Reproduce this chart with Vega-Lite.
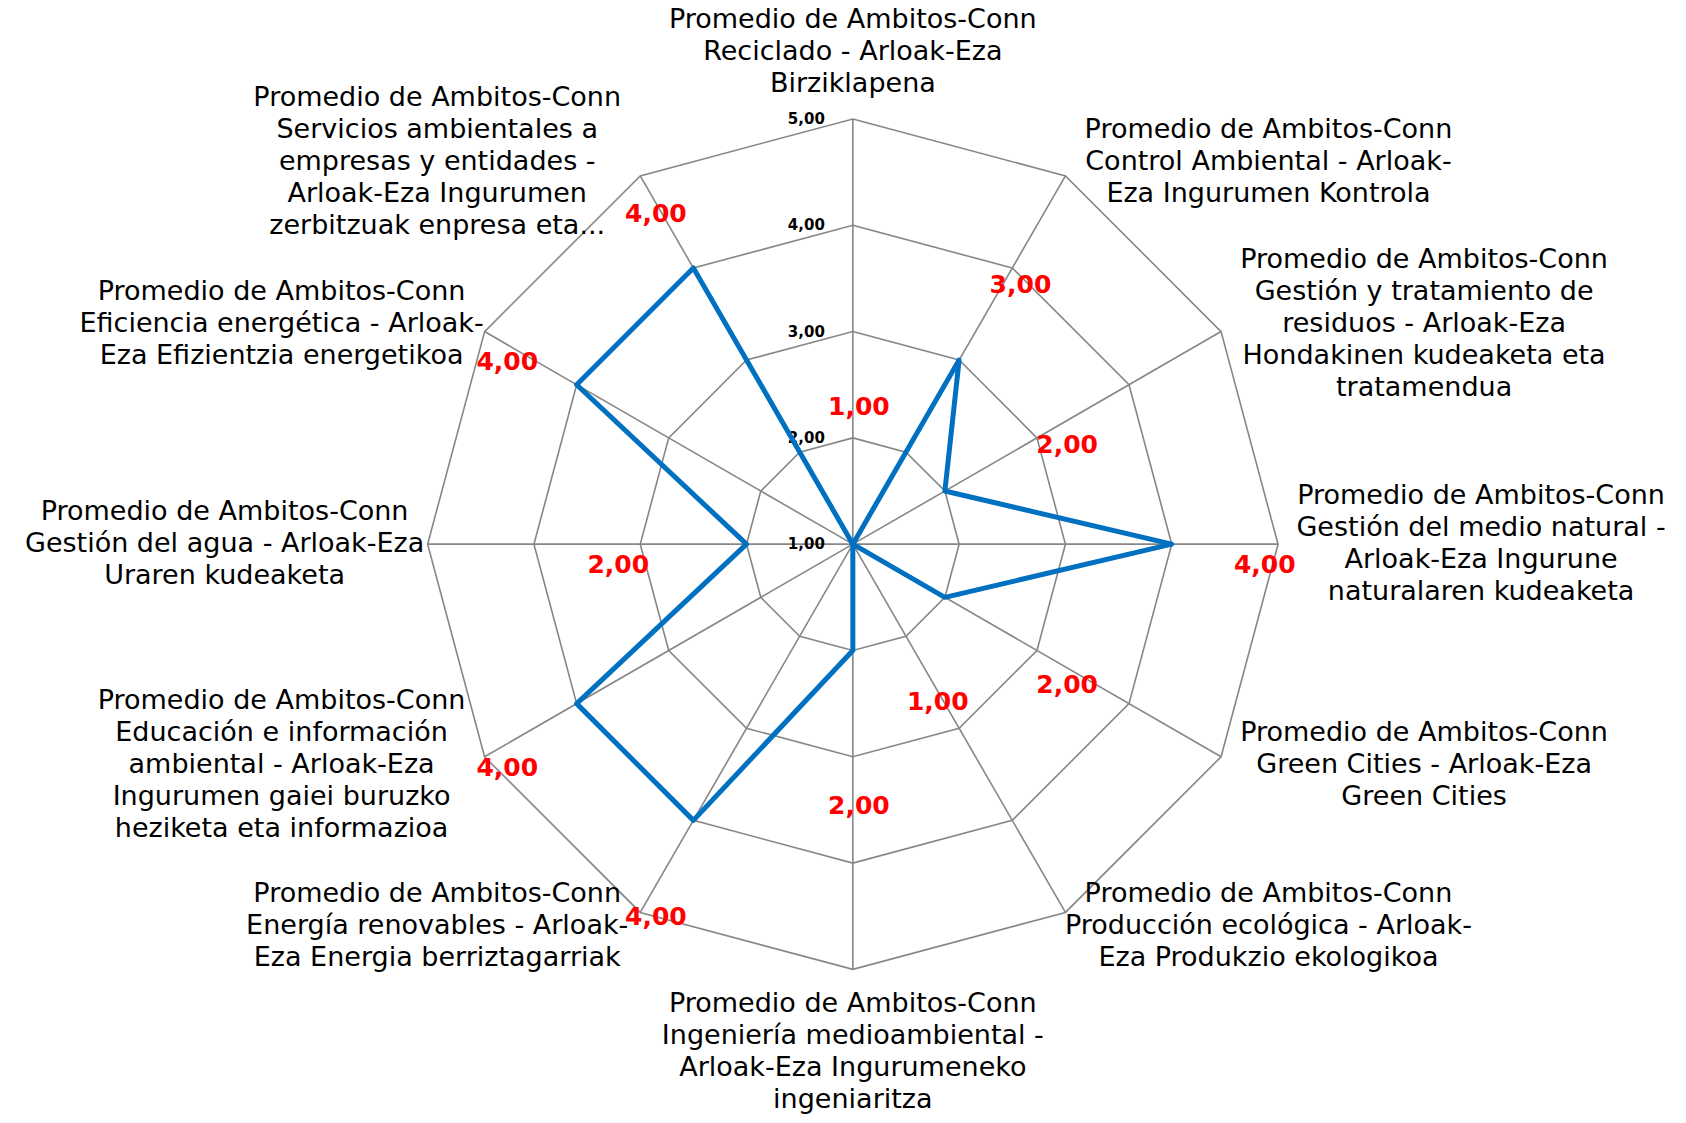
{
  "$schema": "https://vega.github.io/schema/vega-lite/v6.json",
  "width": 1686,
  "height": 1123,
  "autosize": {"type": "fit", "contains": "padding"},
  "padding": 0,
  "background": "white",
  "config": {"view": {"stroke": null}},
  "data": {
    "values": [
      {"k": 0, "value": 1, "label": "Promedio de Ambitos-Conn\nReciclado - Arloak-Eza\nBirziklapena"},
      {"k": 1, "value": 3, "label": "Promedio de Ambitos-Conn\nControl Ambiental - Arloak-\nEza Ingurumen Kontrola"},
      {"k": 2, "value": 2, "label": "Promedio de Ambitos-Conn\nGestión y tratamiento de\nresiduos - Arloak-Eza\nHondakinen kudeaketa eta\ntratamendua"},
      {"k": 3, "value": 4, "label": "Promedio de Ambitos-Conn\nGestión del medio natural  -\nArloak-Eza Ingurune\nnaturalaren kudeaketa"},
      {"k": 4, "value": 2, "label": "Promedio de Ambitos-Conn\nGreen Cities - Arloak-Eza\nGreen Cities"},
      {"k": 5, "value": 1, "label": "Promedio de Ambitos-Conn\nProducción ecológica - Arloak-\nEza Produkzio ekologikoa"},
      {"k": 6, "value": 2, "label": "Promedio de Ambitos-Conn\nIngeniería medioambiental -\nArloak-Eza Ingurumeneko\ningeniaritza"},
      {"k": 7, "value": 4, "label": "Promedio de Ambitos-Conn\nEnergía renovables - Arloak-\nEza Energia berriztagarriak"},
      {"k": 8, "value": 4, "label": "Promedio de Ambitos-Conn\nEducación e información\nambiental - Arloak-Eza\nIngurumen gaiei buruzko\nheziketa eta informazioa"},
      {"k": 9, "value": 2, "label": "Promedio de Ambitos-Conn\nGestión del agua - Arloak-Eza\nUraren kudeaketa"},
      {"k": 10, "value": 4, "label": "Promedio de Ambitos-Conn\nEficiencia energética - Arloak-\nEza Efizientzia energetikoa"},
      {"k": 11, "value": 4, "label": "Promedio de Ambitos-Conn\nServicios ambientales a\nempresas y entidades -\nArloak-Eza Ingurumen\nzerbitzuak enpresa eta..."}
    ]
  },
  "transform": [
    {"calculate": "datum.k*PI/6", "as": "ang"},
    {"calculate": "datum.value-1", "as": "r"},
    {"calculate": "datum.r*sin(datum.ang)", "as": "px"},
    {"calculate": "datum.r*cos(datum.ang)", "as": "py"},
    {"calculate": "4*sin(datum.ang)", "as": "sx"},
    {"calculate": "4*cos(datum.ang)", "as": "sy"},
    {"calculate": "0", "as": "o"}
  ],
  "layer": [
    {
      "transform": [
        {"calculate": "[1,2,3,4]", "as": "rr"},
        {"flatten": ["rr"]},
        {"calculate": "datum.rr*sin(datum.ang)", "as": "gx"},
        {"calculate": "datum.rr*cos(datum.ang)", "as": "gy"}
      ],
      "mark": {"type": "line", "interpolate": "linear-closed", "stroke": "#868686", "strokeWidth": 1.6},
      "encoding": {
        "x": {"field": "gx", "type": "quantitative", "scale": {"domain": [-8.023, 7.838], "nice": false, "zero": false}, "axis": null},
        "y": {"field": "gy", "type": "quantitative", "scale": {"domain": [-5.445, 5.119], "nice": false, "zero": false}, "axis": null},
        "detail": {"field": "rr", "type": "nominal"},
        "order": {"field": "k", "type": "quantitative"}
      }
    },
    {
      "mark": {"type": "rule", "stroke": "#868686", "strokeWidth": 1.6},
      "encoding": {
        "x": {"field": "o", "type": "quantitative", "scale": {"domain": [-8.023, 7.838], "nice": false, "zero": false}, "axis": null},
        "y": {"field": "o", "type": "quantitative", "scale": {"domain": [-5.445, 5.119], "nice": false, "zero": false}, "axis": null},
        "x2": {"field": "sx"},
        "y2": {"field": "sy"}
      }
    },
    {
      "transform": [
        {"filter": "datum.k == 0"},
        {"calculate": "[0,1,2,3,4]", "as": "t"},
        {"flatten": ["t"]},
        {"calculate": "replace(format(datum.t+1, '.2f'), '.', ',')", "as": "tl"}
      ],
      "mark": {"type": "text", "align": "right", "baseline": "middle", "dx": -28, "font": "DejaVu Sans", "fontWeight": "bold", "fontSize": 15, "color": "#000000"},
      "encoding": {
        "x": {"field": "o", "type": "quantitative", "scale": {"domain": [-8.023, 7.838], "nice": false, "zero": false}, "axis": null},
        "y": {"field": "t", "type": "quantitative", "scale": {"domain": [-5.445, 5.119], "nice": false, "zero": false}, "axis": null},
        "text": {"field": "tl", "type": "nominal"}
      }
    },
    {
      "mark": {"type": "line", "interpolate": "linear-closed", "stroke": "#0070C0", "strokeWidth": 5, "strokeJoin": "round"},
      "encoding": {
        "x": {"field": "px", "type": "quantitative", "scale": {"domain": [-8.023, 7.838], "nice": false, "zero": false}, "axis": null},
        "y": {"field": "py", "type": "quantitative", "scale": {"domain": [-5.445, 5.119], "nice": false, "zero": false}, "axis": null},
        "order": {"field": "k", "type": "quantitative"}
      }
    },
    {
      "transform": [
        {"calculate": "0.707 + 0.778*datum.value", "as": "d"},
        {"calculate": "datum.d*sin(datum.ang)", "as": "lx"},
        {"calculate": "datum.d*cos(datum.ang)", "as": "ly"},
        {"calculate": "replace(format(datum.value, '.2f'), '.', ',')", "as": "vl"}
      ],
      "mark": {"type": "text", "align": "center", "baseline": "middle", "dx": 6, "dy": 21, "font": "DejaVu Sans", "fontWeight": "bold", "fontSize": 25, "color": "#FF0000"},
      "encoding": {
        "x": {"field": "lx", "type": "quantitative", "scale": {"domain": [-8.023, 7.838], "nice": false, "zero": false}, "axis": null},
        "y": {"field": "ly", "type": "quantitative", "scale": {"domain": [-5.445, 5.119], "nice": false, "zero": false}, "axis": null},
        "text": {"field": "vl", "type": "nominal"}
      }
    },
    {
      "transform": [
        {"calculate": "length(split(datum.label, '\\n'))", "as": "n"},
        {"calculate": "(19 + 16*datum.n)/106.3", "as": "off"},
        {"calculate": "4*sin(datum.ang) + ((datum.k > 0 && datum.k < 6) ? 1.91 : (datum.k > 6 ? -1.91 : 0))", "as": "cx"},
        {"calculate": "(datum.k == 0 ? 4 + datum.off : (datum.k == 6 ? -4 - datum.off : 4.15*cos(datum.ang))) + (datum.n - 1)*0.1505", "as": "cy"}
      ],
      "mark": {"type": "text", "align": "center", "baseline": "middle", "lineBreak": "\n", "lineHeight": 32, "font": "DejaVu Sans", "fontSize": 27, "color": "#000000"},
      "encoding": {
        "x": {"field": "cx", "type": "quantitative", "scale": {"domain": [-8.023, 7.838], "nice": false, "zero": false}, "axis": null},
        "y": {"field": "cy", "type": "quantitative", "scale": {"domain": [-5.445, 5.119], "nice": false, "zero": false}, "axis": null},
        "text": {"field": "label", "type": "nominal"}
      }
    }
  ]
}
